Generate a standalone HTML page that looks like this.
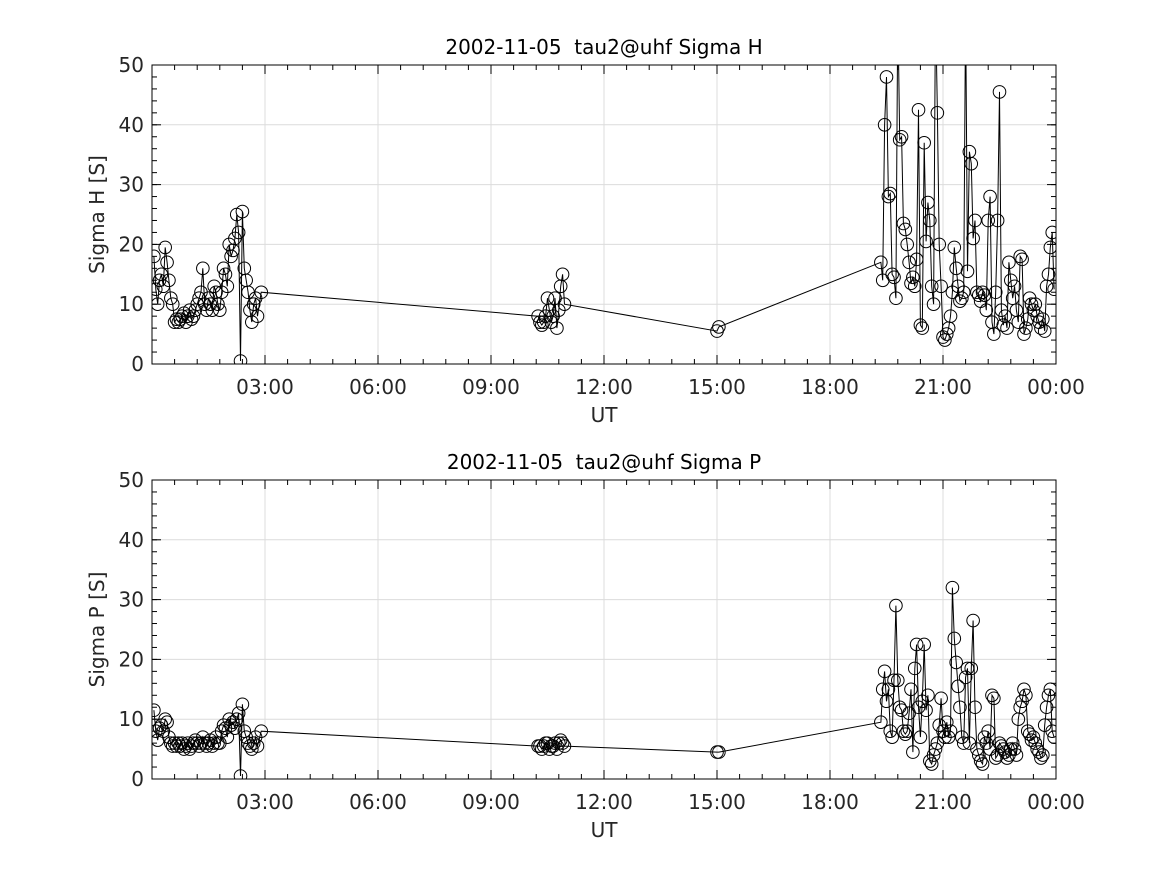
<!DOCTYPE html>
<html><head><meta charset="utf-8"><style>
body{margin:0;background:#fff;}
svg{display:block;font-family:"DejaVu Sans","Liberation Sans",sans-serif;}
text{white-space:pre;}
</style></head><body>
<svg id="chart" width="1167" height="875" viewBox="0 0 1167 875" xmlns="http://www.w3.org/2000/svg"></svg>
<script>
const times = [0.05,0.1,0.15,0.2,0.25,0.3,0.35,0.4,0.45,0.5,0.55,0.6,0.65,0.7,0.75,0.8,0.85,0.9,0.95,1.0,1.05,1.1,1.15,1.2,1.25,1.3,1.35,1.4,1.45,1.5,1.55,1.6,1.65,1.7,1.75,1.8,1.85,1.9,1.95,2.0,2.05,2.1,2.15,2.2,2.25,2.3,2.35,2.4,2.45,2.5,2.55,2.6,2.65,2.7,2.75,2.8,2.9,
10.25,10.3,10.35,10.4,10.45,10.5,10.55,10.6,10.65,10.7,10.75,10.8,10.85,10.9,10.95,
15.0,15.05,
19.35,19.4,19.45,19.5,19.55,19.6,19.65,19.7,19.75,19.8,19.85,19.9,19.95,20.0,20.05,20.1,20.15,20.2,20.25,20.3,20.35,20.4,20.45,20.5,20.55,20.6,20.65,20.7,20.75,20.8,20.85,20.9,20.95,21.0,21.05,21.1,21.15,21.2,21.25,21.3,21.35,21.4,21.45,21.5,21.55,21.6,21.65,21.7,21.75,21.8,21.85,21.9,21.95,22.0,22.05,22.1,22.15,22.2,22.25,22.3,22.35,22.4,22.45,22.5,22.55,22.6,22.65,22.7,22.75,22.8,22.85,22.9,22.95,23.0,23.05,23.1,23.15,23.2,23.25,23.3,23.35,23.4,23.45,23.5,23.55,23.6,23.65,23.7,23.75,23.8,23.85,23.9,23.95];
const sigmaH = [18,12.5,10,14,15,13,19.5,17,14,11,10,7,7.5,7,7.5,8,8.5,7,8,9,7.5,8,9,10,11,12,16,10,9,11,10,9,13,12,10,9,12,16,15,13,20,18,19,21,25,22,0.5,25.5,16,14,12,9,7,10,11,8,12,
8,7,6.5,7,8,11,9,7,8,11,6,9,13,15,10,
5.5,6.2,
17,14,40,48,28,28.5,15,14.5,11,60,37.5,38,23.5,22.5,20,17,13.5,14.5,13,17.5,42.5,6.5,6,37,20.5,27,24,13,10,60,42,20,13,4.5,4,5,6,8,12,19.5,16,13,10.5,11,12,60,15.5,35.5,33.5,21,24,12,11.5,10.5,12,11.5,9,24,28,7,5,12,24,45.5,9,6.5,8,6,17,14,11,13,9,7,18,17.5,5,6,7.5,11,10,9,10,8,7,6,7.5,5.5,13,15,19.5,22,12.5];
const sigmaP = [11.5,8,6.5,8.5,9,8,10,9.5,7,6,5.5,6,5.5,6,5.5,6,5,5.5,6,5,5.5,6,6.5,6,5.5,6,7,6,5.5,6,6.5,5.5,6,7,6,6,8,9,8.5,7,10,9,9.5,8.5,10,11,0.5,12.5,8,7,6,5.5,5,6,7,5.5,8,
5.5,5.5,5,5.5,6,6,5,5.5,5.5,6,5,6,6.5,6,5.5,
4.5,4.5,
9.5,15,18,13,15,8,7,16.5,29,16.5,12,11.5,8,7.5,8,11,15,4.5,18.5,22.5,12,7,13,22.5,11.5,14,3,2.5,4,5,6,9,13.5,8,7,9.5,7,8,32,23.5,19.5,15.5,12,7,6,17,18.5,6,18.5,26.5,12,5,4,3,2.5,7,6,8,5,14,13.5,3.5,4,6,5.5,5,4.5,3.5,4,5,6,5,4,10,12,13,15,14,8,7.5,6.5,7,6,5,4.5,3.5,4,9,12,14,15,8,7];
const xTickHours = [3,6,9,12,15,18,21,24];
const xTickLabels = ["03:00","06:00","09:00","12:00","15:00","18:00","21:00","00:00"];
const yTicks = [0,10,20,30,40,50];

const NS="http://www.w3.org/2000/svg";
const svg=document.getElementById('chart');
function mk(tag,attrs,parent){const e=document.createElementNS(NS,tag);for(const k in attrs)e.setAttribute(k,attrs[k]);(parent||svg).appendChild(e);return e;}

function panel(top,vals,title,ylab,key){
  const L=152,R=1056,T=top,B=top+299;
  const xs=t=>L+(t/24)*(R-L);
  const ys=v=>B-(v/50)*(B-T);
  const g=mk('g',{});
  
  
  const cp=mk('clipPath',{id:'clip-'+key},g);
  mk('rect',{x:L,y:T,width:R-L,height:B-T},cp);
  xTickHours.forEach(h=>{const l=mk('line',{x1:xs(h),x2:xs(h),y1:T,y2:B,stroke:'#dcdcdc','stroke-width':1},g);
    });
  yTicks.forEach(v=>{const l=mk('line',{x1:L,x2:R,y1:ys(v),y2:ys(v),stroke:'#dcdcdc','stroke-width':1},g);
    });
  for(let m=0;m<=40;m++){const h=m*0.6;if(h>24)break;
    mk('line',{x1:xs(h),x2:xs(h),y1:B,y2:B-5,stroke:'#000'},g);
    mk('line',{x1:xs(h),x2:xs(h),y1:T,y2:T+5,stroke:'#000'},g);}
  for(let v=0;v<=50;v+=2){
    mk('line',{x1:L,x2:L+5,y1:ys(v),y2:ys(v),stroke:'#000'},g);
    mk('line',{x1:R,x2:R-5,y1:ys(v),y2:ys(v),stroke:'#000'},g);}
  xTickHours.forEach((h,i)=>{
    mk('line',{x1:xs(h),x2:xs(h),y1:B,y2:B-9,stroke:'#000'},g);
    mk('line',{x1:xs(h),x2:xs(h),y1:T,y2:T+9,stroke:'#000'},g);
    const t=mk('text',{x:xs(h),y:B+30,'text-anchor':'middle','font-size':20,fill:'#262626'},g);
    t.textContent=xTickLabels[i];
    });
  yTicks.forEach(v=>{
    mk('line',{x1:L,x2:L+9,y1:ys(v),y2:ys(v),stroke:'#000'},g);
    mk('line',{x1:R,x2:R-9,y1:ys(v),y2:ys(v),stroke:'#000'},g);
    const t=mk('text',{x:L-8,y:ys(v)+7,'text-anchor':'end','font-size':20,fill:'#262626'},g);
    t.textContent=v;
    });
  const sg=mk('g',{'clip-path':'url(#clip-'+key+')'},g);
  
  
  const pts=times.map((t,i)=>xs(t).toFixed(1)+','+ys(vals[i]).toFixed(1)).join(' ');
  const pl=mk('polyline',{points:pts,fill:'none',stroke:'#000','stroke-width':1},sg);
  
  times.forEach((t,i)=>{
    const c=mk('circle',{cx:xs(t),cy:ys(vals[i]),r:6.3,fill:'none',stroke:'#000','stroke-width':1},sg);
    
    });
  const bx=mk('rect',{x:L,y:T,width:R-L,height:B-T,fill:'none',stroke:'#000','stroke-width':1},g);
  
  const tt=mk('text',{x:(L+R)/2,y:T-11,'text-anchor':'middle','font-size':20,fill:'#000'},g);
  tt.textContent=title;
  
  const xl=mk('text',{x:(L+R)/2,y:B+58,'text-anchor':'middle','font-size':20,fill:'#262626'},g);
  xl.textContent='UT';
  
  const yl=mk('text',{x:0,y:0,'text-anchor':'middle','font-size':20,fill:'#262626',transform:'translate(104,'+((T+B)/2)+') rotate(-90)'},g);
  yl.textContent=ylab;
  
}
panel(65,sigmaH,'2002-11-05  tau2@uhf Sigma H','Sigma H [S]','sigma-h');
panel(480,sigmaP,'2002-11-05  tau2@uhf Sigma P','Sigma P [S]','sigma-p');
</script>
</body></html>
